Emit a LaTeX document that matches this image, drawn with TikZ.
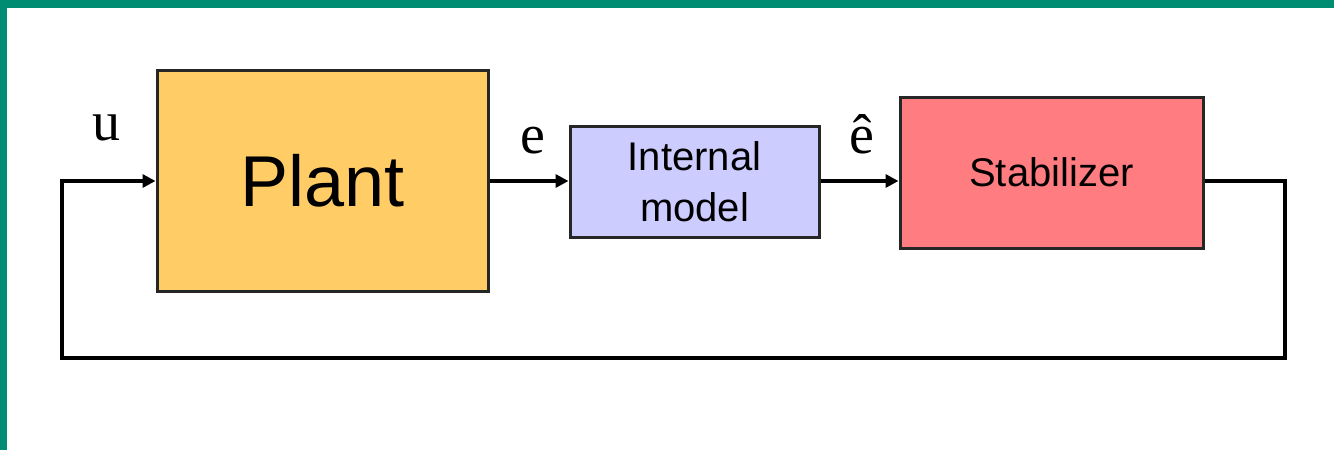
\documentclass[tikz,border=0pt]{standalone}
\usepackage{fontspec}
\setmainfont{Liberation Serif}
\setsansfont{Liberation Sans}
\usetikzlibrary{arrows.meta}
\definecolor{frame}{RGB}{0,140,115}
\definecolor{plantfill}{RGB}{255,204,102}
\definecolor{imfill}{RGB}{204,204,255}
\definecolor{stabfill}{RGB}{255,124,128}
\begin{document}
\begin{tikzpicture}[x=1pt,y=-1pt,
  blk/.style={draw=black!85, line width=3pt, inner sep=0pt, font=\sffamily},
  sig/.style={line width=4.5pt, draw=black},
  arr/.style={sig, -{Triangle[length=13pt,width=13pt]}},
  lbl/.style={font=\fontsize{56}{60}\selectfont, inner sep=0pt}]
\useasboundingbox (0,0) rectangle (1334,450);
\fill[white] (0,0) rectangle (1334,450);
\fill[frame] (0,0) rectangle (1334,8);
\fill[frame] (0,0) rectangle (7,450);
\node[blk, fill=plantfill, minimum width=331pt, minimum height=221pt,
  font=\sffamily\fontsize{72}{80}\selectfont] (plant) at (322.5,180.5) {Plant};
\node[blk, fill=imfill, minimum width=249pt, minimum height=111pt,
  align=center, font=\sffamily\fontsize{40}{51}\selectfont] (im) at (694.5,181.5) {Internal\\model};
\node[blk, fill=stabfill, minimum width=303pt, minimum height=151pt,
  font=\sffamily\fontsize{40}{44}\selectfont] (stab) at (1051.5,172.5) {Stabilizer};
\coordinate (c1) at (1285,181);
\coordinate (c2) at (1285,358);
\coordinate (c3) at (62,358);
\coordinate (c4) at (62,181);
\draw[arr] (plant.east |- 0,181) -- (im.west |- 0,181);
\draw[arr] (im.east |- 0,181) -- (stab.west |- 0,181);
\draw[arr, line join=miter] (stab.east |- 0,181) -- (c1) -- (c2) -- (c3) -- (c4) -- (plant.west |- 0,181);
\node[lbl] (lu) at (106,128) {u};
\node[lbl] (le) at (533,141) {e};
\node[lbl] (leh) at (862,134) {ê};
\end{tikzpicture}
\end{document}
